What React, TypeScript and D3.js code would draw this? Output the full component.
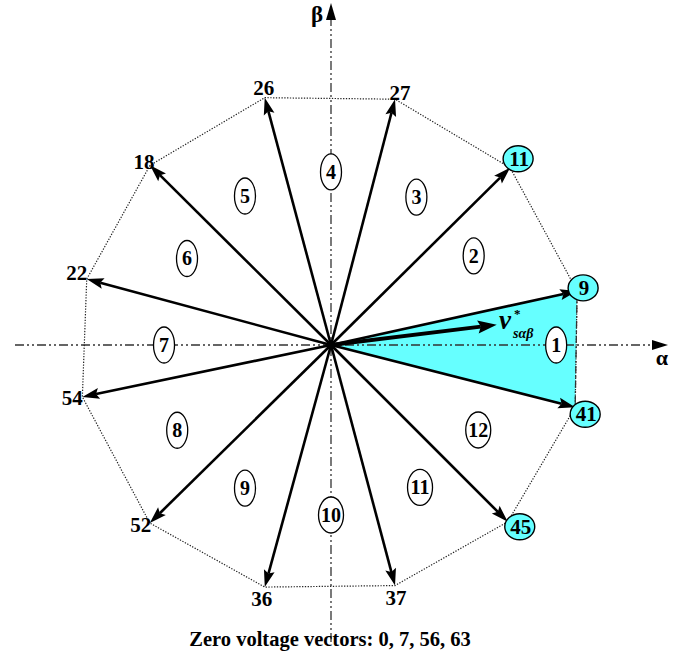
import React from "react";
import * as d3 from "d3";

// Voltage vectors: label, angle (deg), magnitude (relative to the nominal radius)
const vectorLabels = ["9", "11", "27", "26", "18", "22", "54", "52", "36", "37", "45", "41"];
const vectorAngles = [12.4, 44.7, 75.4, 105, 135.2, 164.9, 191.8, 224.5, 254.7, 284.9, 315, 345.7];
const vectorMags = [0.996, 0.996, 1.004, 1.012, 1.008, 1.0, 1.004, 1.004, 0.992, 0.984, 0.988, 0.996];
const highlighted = ["9", "11", "45", "41"];

// Sector numbers: label, angle (deg), radial position
const sectorLabels = ["1", "2", "3", "4", "5", "6", "7", "8", "9", "10", "11", "12"];
const sectorAngles = [0, 32, 60, 90, 120, 149, 180, 209, 239, 270, 302, 330];
const sectorRadii = [0.89, 0.665, 0.675, 0.684, 0.68, 0.664, 0.66, 0.695, 0.66, 0.672, 0.664, 0.672];

// Reference vector
const refAngle = 7;
const refMag = 0.66;

const zeroText = "Zero voltage vectors: 0, 7, 56, 63";

// label offsets (style) for non-highlighted vertex labels
const labelOffset: Record<string, [number, number]> = {
  "27": [5, 1],
  "26": [-1, -3],
  "18": [-6, 4],
  "22": [-10, 1],
  "54": [-10, 8],
  "52": [-9, 9],
  "36": [-3, 19],
  "37": [1, 19],
};
const ellipseOffset: Record<string, [number, number]> = {
  "9": [6, -3],
  "11": [8, -9],
  "45": [12, 5],
  "41": [10, 7],
};

const W = 679;
const H = 657;
const CX = 331;
const CY = 345;
const R = 253;
const CYAN = "#66ffff";
const FONT = "'Liberation Serif', 'Times New Roman', serif";

export default function App() {
  const x = d3.scaleLinear().domain([-1, 1]).range([CX - R, CX + R]);
  const y = d3.scaleLinear().domain([-1, 1]).range([CY + R, CY - R]);
  const rad = (deg: number) => (deg * Math.PI) / 180;
  const pt = (deg: number, m: number): [number, number] => [
    x(m * Math.cos(rad(deg))),
    y(m * Math.sin(rad(deg))),
  ];

  const verts = vectorLabels.map((l, i) => ({
    label: l,
    p: pt(vectorAngles[i], vectorMags[i]),
  }));

  const arrow = (
    x0: number,
    y0: number,
    x1: number,
    y1: number,
    len: number,
    half: number,
    sw: number,
    key: string
  ) => {
    const dx = x1 - x0;
    const dy = y1 - y0;
    const L = Math.hypot(dx, dy);
    const ux = dx / L;
    const uy = dy / L;
    const bx = x1 - ux * len;
    const by = y1 - uy * len;
    const px = -uy;
    const py = ux;
    const head = [
      [x1, y1],
      [bx + px * half, by + py * half],
      [bx + ux * 3, by + uy * 3],
      [bx - px * half, by - py * half],
    ];
    return (
      <g key={key}>
        <line x1={x0} y1={y0} x2={bx + ux * 3} y2={by + uy * 3} stroke="#000" strokeWidth={sw} />
        <polygon points={head.map((q) => q.join(",")).join(" ")} fill="#000" />
      </g>
    );
  };

  const polyLine = d3.line().curve(d3.curveLinearClosed)(verts.map((v) => v.p));
  const v9 = verts.find((v) => v.label === "9")!.p;
  const v41 = verts.find((v) => v.label === "41")!.p;
  const tri = d3.line().curve(d3.curveLinearClosed)([[CX, CY], v9, v41]);
  const refTip = pt(refAngle, refMag);

  return (
    <svg
      width={W}
      height={H}
      style={{ position: "absolute", left: 0, top: 0, background: "#fff" }}
      fontFamily={FONT}
    >
      {/* highlighted sector */}
      <path d={tri || ""} fill={CYAN} stroke="none" />

      {/* axes */}
      <line x1={15} y1={CY} x2={656} y2={CY} stroke="#333" strokeWidth={1.3} strokeDasharray="9,3,2,3,2,3" />
      <polygon points={`668,${CY} 652,${CY - 5} 652,${CY + 5}`} fill="#000" />
      <line x1={CX} y1={642} x2={CX} y2={18} stroke="#333" strokeWidth={1.3} strokeDasharray="9,3,2,3,2,3" />
      <polygon points={`${CX},3 ${CX - 5},20 ${CX + 5},20`} fill="#000" />
      <text x={317} y={22} fontSize={23} fontWeight="bold" textAnchor="middle">β</text>
      <text x={662} y={365} fontSize={22} fontWeight="bold" textAnchor="middle">α</text>

      {/* dotted dodecagon */}
      <path d={polyLine || ""} fill="none" stroke="#222" strokeWidth={1.2} strokeDasharray="1.3,1.5" />
      <line x1={v9[0]} y1={v9[1]} x2={v41[0]} y2={v41[1]} stroke="#333" strokeWidth={1.3} strokeDasharray="7,3,2,3" />

      {/* vectors */}
      {verts.map((v) => arrow(CX, CY, v.p[0], v.p[1], 17, 5.5, 2.6, "v" + v.label))}

      {/* reference vector */}
      {arrow(CX, CY, refTip[0], refTip[1], 19, 6.5, 3.8, "ref")}
      <text x={499} y={329} fontSize={27} fontWeight="bold" fontStyle="italic">v</text>
      <text x={514} y={318} fontSize={13} fontWeight="bold">*</text>
      <text x={513} y={338} fontSize={14} fontWeight="bold" fontStyle="italic">sαβ</text>

      {/* sector labels */}
      {sectorLabels.map((s, i) => {
        const [sx, sy] = pt(sectorAngles[i], sectorRadii[i]);
        return (
          <g key={"s" + s}>
            <ellipse cx={sx} cy={sy} rx={s.length > 1 ? 12.5 : 10.5} ry={18} fill="#fff" stroke="#000" strokeWidth={1.3} />
            <text x={sx} y={sy + 7} fontSize={20} fontWeight="bold" textAnchor="middle">
              {s}
            </text>
          </g>
        );
      })}

      {/* vertex labels */}
      {verts.map((v) => {
        if (highlighted.includes(v.label)) {
          const [ox, oy] = ellipseOffset[v.label];
          const ex = v.p[0] + ox;
          const ey = v.p[1] + oy;
          return (
            <g key={"l" + v.label}>
              <ellipse cx={ex} cy={ey} rx={15} ry={13} fill={CYAN} stroke="#000" strokeWidth={1.4} />
              <text x={ex + 1} y={ey + 7} fontSize={21} fontWeight="bold" textAnchor="middle">
                {v.label}
              </text>
            </g>
          );
        }
        const [ox, oy] = labelOffset[v.label];
        return (
          <text
            key={"l" + v.label}
            x={v.p[0] + ox}
            y={v.p[1] + oy}
            fontSize={21}
            fontWeight="bold"
            textAnchor="middle"
          >
            {v.label}
          </text>
        );
      })}

      {/* zero vectors note */}
      <text x={330} y={646} fontSize={20.5} fontWeight="bold" textAnchor="middle">
        {zeroText}
      </text>
    </svg>
  );
}
